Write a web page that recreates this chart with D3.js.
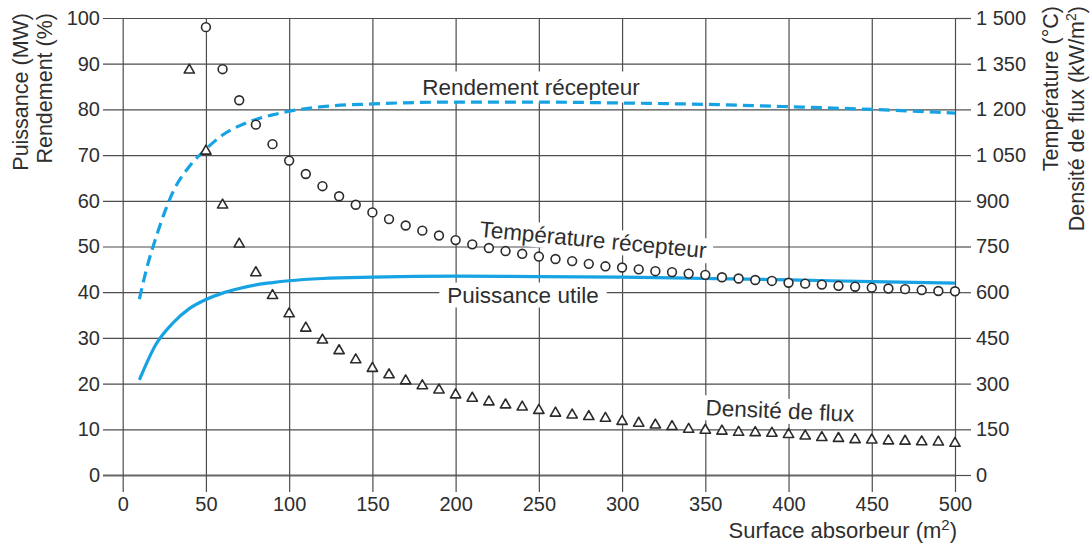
<!DOCTYPE html>
<html>
<head>
<meta charset="utf-8">
<script src="https://cdn.jsdelivr.net/npm/d3@7/dist/d3.min.js"></script>
<style>
  html, body { margin: 0; padding: 0; background: #fff; }
  svg { display: block; font-family: "Liberation Sans", Arial, Helvetica, sans-serif; }
</style>
</head>
<body>
<svg id="chart" width="1092" height="545"></svg>
<script>
// ---------- DATA ----------
const xTicks = [0, 50, 100, 150, 200, 250, 300, 350, 400, 450, 500];
const leftTicks = [0, 10, 20, 30, 40, 50, 60, 70, 80, 90, 100];
const rightTicks = [0, 150, 300, 450, 600, 750, 900, 1050, 1200, 1350, 1500];
const rightTickLabels = ["0", "150", "300", "450", "600", "750", "900", "1 050", "1 200", "1 350", "1 500"];

// Rendement récepteur (%)
const surfaceRend = [10, 15, 20, 25, 30, 40, 50, 60, 70, 80, 90, 100, 120, 150, 200, 250, 300, 350, 400, 450, 500];
const rendement   = [38.5, 46, 52, 57.3, 61.8, 67.5, 71.3, 74.4, 76.4, 77.8, 78.8, 79.6, 80.6, 81.2, 81.6, 81.6, 81.4, 81.1, 80.6, 80.0, 79.2];

// Puissance utile (MW)
const surfacePuis = [10, 20, 30, 40, 50, 60, 70, 80, 90, 100, 120, 150, 200, 250, 300, 350, 400, 450, 500];
const puissance   = [20.8, 28.6, 33.2, 36.4, 38.4, 39.8, 40.8, 41.6, 42.1, 42.5, 43.0, 43.3, 43.5, 43.4, 43.3, 43.0, 42.7, 42.3, 42.0];

// Température récepteur (°C)
const surfaceTemp = [50, 60, 70, 80, 90, 100, 110, 120, 130, 140, 150, 160, 170, 180, 190, 200, 210, 220, 230, 240,
                     250, 260, 270, 280, 290, 300, 310, 320, 330, 340, 350, 360, 370, 380, 390, 400, 410, 420, 430, 440,
                     450, 460, 470, 480, 490, 500];
const temperature = [1470, 1332, 1230, 1150, 1086, 1032, 988, 948, 915, 887, 862, 840, 819, 802, 786, 771, 757, 745, 735, 726,
                     717, 709, 702, 693, 685, 681, 675, 669, 666, 661, 657, 649, 645, 640, 637, 631, 628, 625, 621, 618,
                     615, 612, 610, 607, 604, 603];

// Densité de flux (kW/m²)
const surfaceFlux = [40, 50, 60, 70, 80, 90, 100, 110, 120, 130, 140, 150, 160, 170, 180, 190, 200, 210, 220, 230,
                     240, 250, 260, 270, 280, 290, 300, 310, 320, 330, 340, 350, 360, 370, 380, 390, 400, 410, 420, 430,
                     440, 450, 460, 470, 480, 490, 500];
const densite     = [1329, 1063, 886, 758, 664, 589, 529, 482, 443, 408, 378, 350, 329, 309, 293, 279, 263, 252, 240, 230,
                     223, 212, 203, 197, 192, 186, 176, 170, 164, 159, 150, 147, 144, 140, 139, 137, 133, 128, 123, 120,
                     116, 115, 112, 111, 109, 108, 104];

// ---------- CHART ----------
const svg = d3.select("#chart");
const X0 = 122.7, X1 = 955, Y0 = 475, Y1 = 18;
const x = d3.scaleLinear().domain([0, 500]).range([X0, X1]);
const yL = d3.scaleLinear().domain([0, 100]).range([Y0, Y1]);
const yR = d3.scaleLinear().domain([0, 1500]).range([Y0, Y1]);

const gridColor = "#4d4d4d";
const textColor = "#2e2e2e";
const blue = "#17a3e3";
const labelFont = 22.5;

// Left axis with horizontal gridlines (extending outside on the left)
const leftAxis = svg.append("g")
  .attr("transform", `translate(103,0)`)
  .call(d3.axisLeft(yL).tickValues(leftTicks).tickSize(-(X1 - 103)).tickPadding(3).tickFormat(d3.format("d")));
leftAxis.select(".domain").remove();

// Right axis (ticks outside on the right)
const rightAxis = svg.append("g")
  .attr("transform", `translate(${X1},0)`)
  .call(d3.axisRight(yR).tickValues(rightTicks).tickSize(16).tickPadding(5)
        .tickFormat((d, i) => rightTickLabels[i]));
rightAxis.select(".domain").remove();

// Bottom axis with vertical gridlines (extending below)
const bottomAxis = svg.append("g")
  .attr("transform", `translate(0,492)`)
  .call(d3.axisBottom(x).tickValues(xTicks).tickSize(-(492 - Y1)).tickPadding(5));
bottomAxis.select(".domain").remove();

[leftAxis, rightAxis, bottomAxis].forEach(g => {
  g.selectAll(".tick line").attr("stroke", gridColor).attr("stroke-width", 1.2);
  g.selectAll(".tick text").attr("fill", textColor).attr("font-size", 20);
});
bottomAxis.selectAll(".tick text").attr("dy", "0.71em");
leftAxis.selectAll(".tick").filter(d => d === 0).select("line").attr("stroke", "#666").attr("stroke-width", 2);

// ---------- LAYERS ----------
const boxLayer = svg.append("g");
const curvesLayer = svg.append("g");
const markers = svg.append("g");
const textLayer = svg.append("g");

function addLabel(txt, cx, cy, angle, pad) {
  const tr = `translate(${cx},${cy}) rotate(${angle})`;
  const t = textLayer.append("g").attr("transform", tr).append("text")
    .attr("text-anchor", "middle")
    .attr("dominant-baseline", "central")
    .attr("font-size", labelFont)
    .attr("fill", textColor)
    .text(txt);
  const bb = t.node().getBBox();
  boxLayer.append("g").attr("transform", tr).append("rect")
    .attr("fill", "#fff")
    .attr("x", bb.x - pad[0]).attr("y", bb.y - pad[1])
    .attr("width", bb.width + 2 * pad[0]).attr("height", bb.height + 2 * pad[1]);
}

// ---------- CURVES ----------
const lineL = d3.line().x(d => x(d[0])).y(d => yL(d[1])).curve(d3.curveMonotoneX);

curvesLayer.append("path")
  .datum(d3.zip(surfaceRend, rendement))
  .attr("d", lineL)
  .attr("fill", "none").attr("stroke", blue).attr("stroke-width", 3.2)
  .attr("stroke-dasharray", "11,6");

curvesLayer.append("path")
  .datum(d3.zip(surfacePuis, puissance))
  .attr("d", lineL)
  .attr("fill", "none").attr("stroke", blue).attr("stroke-width", 3.2);

addLabel("Rendement récepteur", 531, 87, 0, [8, 3]);
addLabel("Puissance utile", 523, 295, 0, [8, 0]);
addLabel("Température récepteur", 593, 240, 5.4, [6, 0]);
addLabel("Densité de flux", 780, 411, 2.5, [6, 0]);

// ---------- MARKERS ----------
markers.selectAll("circle.temp")
  .data(d3.zip(surfaceTemp, temperature))
  .join("circle")
  .attr("class", "temp")
  .attr("cx", d => x(d[0])).attr("cy", d => yR(d[1])).attr("r", 4.4)
  .attr("fill", "#fff").attr("stroke", "#2b2b2b").attr("stroke-width", 1.6);

const tri = d3.symbol().type(d3.symbolTriangle).size(46);
markers.selectAll("path.flux")
  .data(d3.zip(surfaceFlux, densite))
  .join("path")
  .attr("class", "flux")
  .attr("transform", d => `translate(${x(d[0])},${yR(d[1])})`)
  .attr("d", tri)
  .attr("fill", "#fff").attr("stroke", "#2b2b2b").attr("stroke-width", 1.6)
  .attr("stroke-linejoin", "round");

// ---------- AXIS TITLES ----------
const titleFont = 21.5;
svg.append("text")
  .attr("transform", "translate(28,13) rotate(-90)")
  .attr("text-anchor", "end").attr("font-size", titleFont).attr("fill", textColor)
  .text("Puissance (MW)");
svg.append("text")
  .attr("transform", "translate(52,13) rotate(-90)")
  .attr("text-anchor", "end").attr("font-size", titleFont).attr("fill", textColor)
  .text("Rendement (%)");

svg.append("text")
  .attr("transform", "translate(1058,6) rotate(-90)")
  .attr("text-anchor", "end").attr("font-size", titleFont).attr("fill", textColor)
  .text("Température (°C)");
const tDens = svg.append("text")
  .attr("transform", "translate(1084,6) rotate(-90)")
  .attr("text-anchor", "end").attr("font-size", titleFont).attr("fill", textColor);
tDens.append("tspan").text("Densité de flux (kW/m");
tDens.append("tspan").attr("baseline-shift", "super").attr("font-size", 14).text("2");
tDens.append("tspan").text(")");

const tX = svg.append("text")
  .attr("x", 957).attr("y", 538)
  .attr("text-anchor", "end").attr("font-size", 22).attr("fill", textColor);
tX.append("tspan").text("Surface absorbeur (m");
tX.append("tspan").attr("baseline-shift", "super").attr("font-size", 15).text("2");
tX.append("tspan").text(")");
</script>
</body>
</html>
